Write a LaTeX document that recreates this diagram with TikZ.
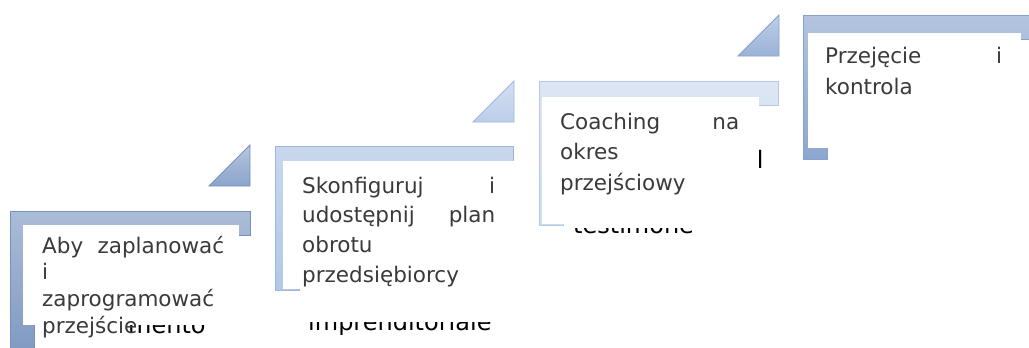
\documentclass[tikz,border=0pt]{standalone}
\usepackage{fontspec}
\setmainfont{DejaVu Sans}
\definecolor{txtgray}{HTML}{3A3A3A}
\definecolor{cAt}{HTML}{AABCD7}
\definecolor{cAb}{HTML}{7F99C2}
\definecolor{oA}{HTML}{7591BC}
\definecolor{cBt}{HTML}{C8D7ED}
\definecolor{cBb}{HTML}{B3C8E6}
\definecolor{oB}{HTML}{9DB6DC}
\definecolor{cCt}{HTML}{DCE6F4}
\definecolor{cCb}{HTML}{CEDCF0}
\definecolor{oC}{HTML}{B5C9E6}
\definecolor{cDt}{HTML}{B2C4DF}
\definecolor{cDb}{HTML}{8CA7D0}
\definecolor{oD}{HTML}{86A2CC}
\definecolor{tAt}{HTML}{B6C7E0}
\definecolor{tAb}{HTML}{8AA4CA}
\definecolor{tBt}{HTML}{D3DFF1}
\definecolor{tBb}{HTML}{BDCEE9}
\definecolor{tCt}{HTML}{BDCEE7}
\definecolor{tCb}{HTML}{9CB3D7}
\begin{document}
\begin{tikzpicture}[x=1pt,y=-1pt,
  lshape/.style={line width=0.8pt},
  tri/.style={line width=0.8pt},
  whitebox/.style={fill=white,draw=none},
  steptext/.style={anchor=north west,inner sep=0pt,align=left,text=txtgray,font=\fontsize{21.5}{#1}\selectfont},
  frag/.style={anchor=base west,inner sep=0pt,text=black,font=\fontsize{24}{28}\selectfont}]
\useasboundingbox (0,0) rectangle (1029,348);
\clip (0,0) rectangle (1029,348);

% L-shapes
\draw[lshape, draw=oA, top color=cAt, bottom color=cAb]
  (10,211) -- (250,211) -- (250,235) -- (34,235) -- (34,355) -- (10,355) -- cycle;
\draw[lshape, draw=oB, top color=cBt, bottom color=cBb]
  (275,146) -- (513,146) -- (513,170) -- (299,170) -- (299,290) -- (275,290) -- cycle;
\draw[lshape, draw=oC, top color=cCt, bottom color=cCb]
  (539,81) -- (778,81) -- (778,105) -- (563,105) -- (563,225) -- (539,225) -- cycle;
\draw[lshape, draw=oD, top color=cDt, bottom color=cDb]
  (803,15) -- (1042,15) -- (1042,39) -- (827,39) -- (827,159) -- (803,159) -- cycle;

% triangles
\draw[tri, draw=oA, top color=tAt, bottom color=tAb] (209,186) -- (250,186) -- (250,145) -- cycle;
\draw[tri, draw=oB, top color=tBt, bottom color=tBb] (473,122) -- (514,122) -- (514,81) -- cycle;
\draw[tri, draw=oD, top color=tCt, bottom color=tCb] (738,56) -- (779,56) -- (779,15) -- cycle;

% underlying text fragments
\node[frag] (f1) at (128,333) {mento};
\begin{scope}
  \clip (290,322) rectangle (510,348);
  \node[frag] (f2) at (308,330) {imprenditoriale};
\end{scope}
\begin{scope}
  \clip (560,228) rectangle (700,245);
  \node[frag] (f3) at (573,233) {testimone};
\end{scope}
\node[frag] (f4) at (756.7,168) {l};

% white text boxes
\fill[whitebox] (23,225) rectangle (239,325);
\fill[whitebox] (283,161) rectangle (515,289);
\fill[whitebox] (542,97) rectangle (759,224);
\fill[whitebox] (808,33) rectangle (1021,148);

% step texts
\node[steptext=26.7, text width=182pt] (t1) at (42,233)
  {\rule{0pt}{20pt}Aby\hfill zaplanować\\i\\zaprogramować\\przejście};
\node[steptext=29.7, text width=193pt] (t2) at (302,173)
  {\rule{0pt}{20pt}Skonfiguruj\hfill i\\udostępnij\hfill plan\\obrotu\\przedsiębiorcy};
\node[steptext=30.5, text width=179pt] (t3) at (560,109)
  {\rule{0pt}{20pt}Coaching\hfill na\\okres\\przejściowy};
\node[steptext=31, text width=177pt] (t4) at (825,43)
  {\rule{0pt}{20pt}Przejęcie\hfill i\\kontrola};
\end{tikzpicture}
\end{document}
